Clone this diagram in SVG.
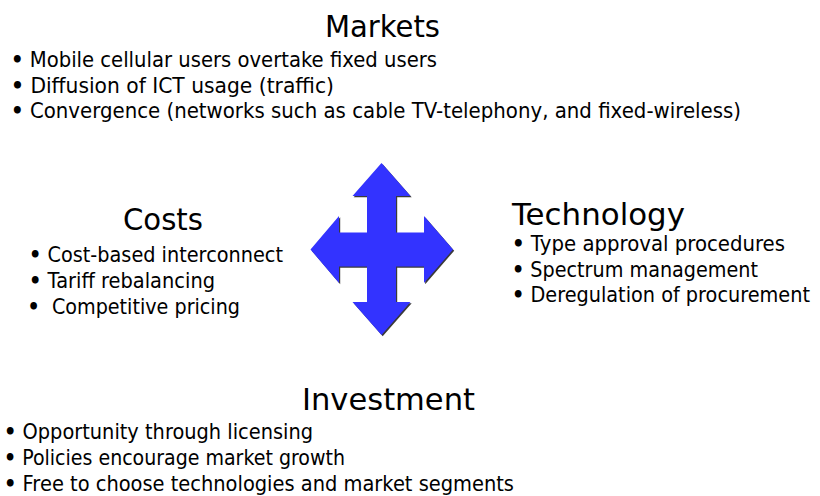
<svg xmlns="http://www.w3.org/2000/svg" width="820" height="496" viewBox="0 0 820 496">
<style>
.t{font-family:"DejaVu Sans","Liberation Sans",sans-serif;font-size:31px;fill:#000}
.b{font-family:"DejaVu Sans","Liberation Sans",sans-serif;font-size:20.5px;fill:#000}
.d{font-weight:bold}
</style>
<defs>
<polygon id="arrowShape" points="381.5,163 410.5,196 396,196 396,232.5 424,232.5 424,216 453,249.5 424,283 424,266.5 396,266.5 396,302 410.5,302 381.5,335 352.5,302 367,302 367,266.5 339,266.5 339,283 310.5,249.5 339,216 339,232.5 367,232.5 367,196 352.5,196"/>
</defs>
<rect width="820" height="496" fill="#fff"/>
<g id="markets">
<text class="t" x="325" y="37" textLength="115" lengthAdjust="spacingAndGlyphs">Markets</text>
<text class="b" x="11" y="66.5" textLength="426" lengthAdjust="spacingAndGlyphs"><tspan class="d">•</tspan> Mobile cellular users overtake fixed users</text>
<text class="b" x="11" y="92.5" textLength="323" lengthAdjust="spacingAndGlyphs"><tspan class="d">•</tspan> Diffusion of ICT usage (traffic)</text>
<text class="b" x="11" y="118" textLength="730" lengthAdjust="spacingAndGlyphs"><tspan class="d">•</tspan> Convergence (networks such as cable TV-telephony, and fixed-wireless)</text>
</g>
<g id="costs">
<text class="t" x="123" y="230" textLength="80" lengthAdjust="spacingAndGlyphs">Costs</text>
<text class="b" x="29" y="262" textLength="254" lengthAdjust="spacingAndGlyphs"><tspan class="d">•</tspan> Cost-based interconnect</text>
<text class="b" x="29" y="288" textLength="186" lengthAdjust="spacingAndGlyphs"><tspan class="d">•</tspan> Tariff rebalancing</text>
<text class="b" x="27.5" y="314" textLength="212.5" lengthAdjust="spacingAndGlyphs"><tspan class="d">•</tspan>&#160;&#160;Competitive pricing</text>
</g>
<g id="technology">
<text class="t" x="512" y="225" textLength="173" lengthAdjust="spacingAndGlyphs">Technology</text>
<text class="b" x="512" y="251" textLength="273" lengthAdjust="spacingAndGlyphs"><tspan class="d">•</tspan> Type approval procedures</text>
<text class="b" x="512" y="276.5" textLength="246" lengthAdjust="spacingAndGlyphs"><tspan class="d">•</tspan> Spectrum management</text>
<text class="b" x="512" y="302" textLength="298" lengthAdjust="spacingAndGlyphs"><tspan class="d">•</tspan> Deregulation of procurement</text>
</g>
<g id="investment">
<text class="t" x="302" y="410" textLength="173" lengthAdjust="spacingAndGlyphs">Investment</text>
<text class="b" x="4" y="439" textLength="309" lengthAdjust="spacingAndGlyphs"><tspan class="d">•</tspan> Opportunity through licensing</text>
<text class="b" x="4" y="465" textLength="341" lengthAdjust="spacingAndGlyphs"><tspan class="d">•</tspan> Policies encourage market growth</text>
<text class="b" x="4" y="490.5" textLength="510" lengthAdjust="spacingAndGlyphs"><tspan class="d">•</tspan> Free to choose technologies and market segments</text>
</g>
<g id="connectors">
<use href="#arrowShape" transform="translate(1.2,1.2)" fill="#3a3a3a"/>
<use href="#arrowShape" fill="#3333ff"/>
</g>
</svg>
